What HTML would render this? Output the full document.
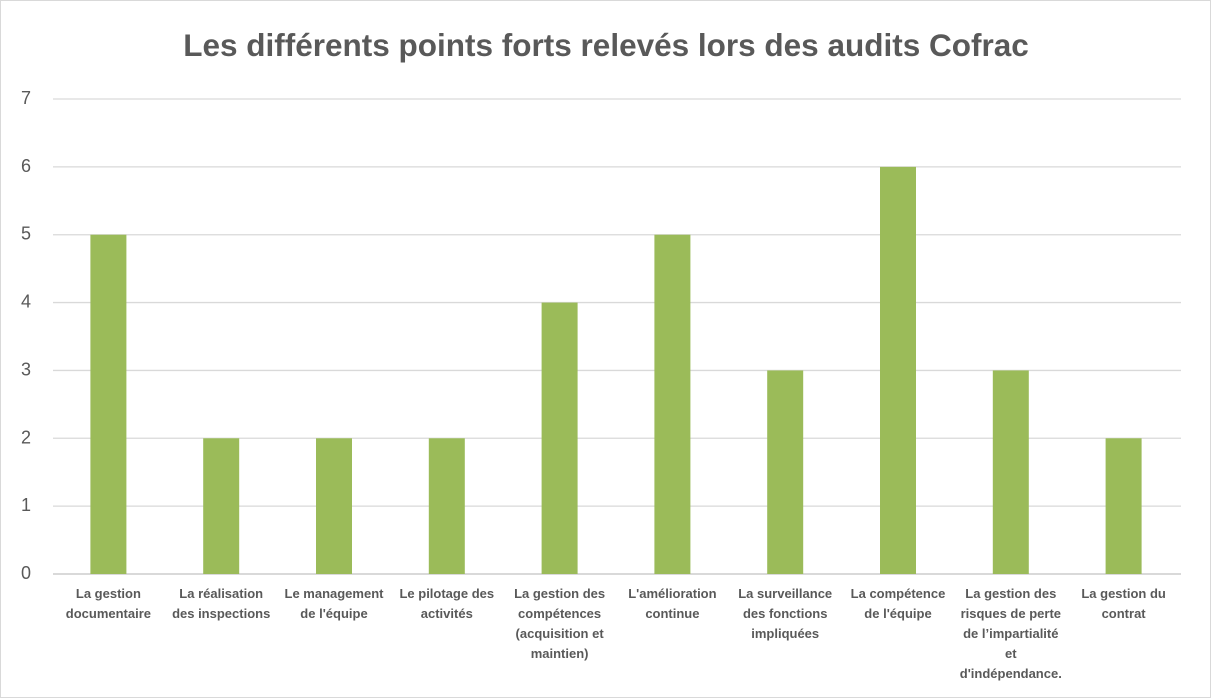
<!DOCTYPE html>
<html><head><meta charset="utf-8"><style>
body{margin:0;background:#fff}
#c{position:relative;width:1209px;height:696px;border:1px solid #d9d9d9;background:#fff;font-family:"Liberation Sans",sans-serif;overflow:hidden}
svg{position:absolute;left:0;top:0}
</style></head><body>
<div id="c">
<svg id="s" width="1211" height="698">
<text x="605" y="55" text-anchor="middle" font-size="31.5" font-weight="bold" fill="#595959" font-family="Liberation Sans, sans-serif">Les différents points forts relevés lors des audits Cofrac</text>
</svg>
</div>
<script>
const categories=[["La gestion","documentaire"],["La réalisation","des inspections"],["Le management","de l'équipe"],["Le pilotage des","activités"],["La gestion des","compétences","(acquisition et","maintien)"],["L'amélioration","continue"],["La surveillance","des fonctions","impliquées"],["La compétence","de l'équipe"],["La gestion des","risques de perte","de l’impartialité","et","d'indépendance."],["La gestion du","contrat"]];
const values=[5,2,2,2,4,5,3,6,3,2];
const ticks=[0,1,2,3,4,5,6,7];
const NS="http://www.w3.org/2000/svg";
const s=document.getElementById('s');
const L=51,R=1179,T=98,B=573,maxV=7;
const y=v=>B-(B-T)*v/maxV;
const bw=(R-L)/categories.length;
const x=i=>L+bw*(i+0.5);
function mk(t,a){const e=document.createElementNS(NS,t);for(const k in a)e.setAttribute(k,a[k]);s.appendChild(e);return e;}
ticks.forEach(t=>{
 const g=mk('line',{x1:L+1,x2:R+1,y1:y(t),y2:y(t),stroke:'#d9d9d9','stroke-width':t===0?2:1.3});
 
 
 const tx=mk('text',{x:30,y:y(t)+5,'text-anchor':'end','font-size':18,fill:'#595959'});
 tx.textContent=t;
 
 
});
values.forEach((v,i)=>{
 const r=mk('rect',{x:x(i)-18,y:y(v),width:36,height:B-y(v),fill:'#9bbb59'});
 
 
});
categories.forEach((lines,i)=>{
 const t=mk('text',{x:x(i),'text-anchor':'middle','font-size':13,'font-weight':'bold',fill:'#595959'});
 
 
 lines.forEach((ln,j)=>{const ts=document.createElementNS(NS,'tspan');ts.setAttribute('x',x(i));ts.setAttribute('y',597+j*20);ts.textContent=ln;t.appendChild(ts);});
});
</script>
</body></html>
